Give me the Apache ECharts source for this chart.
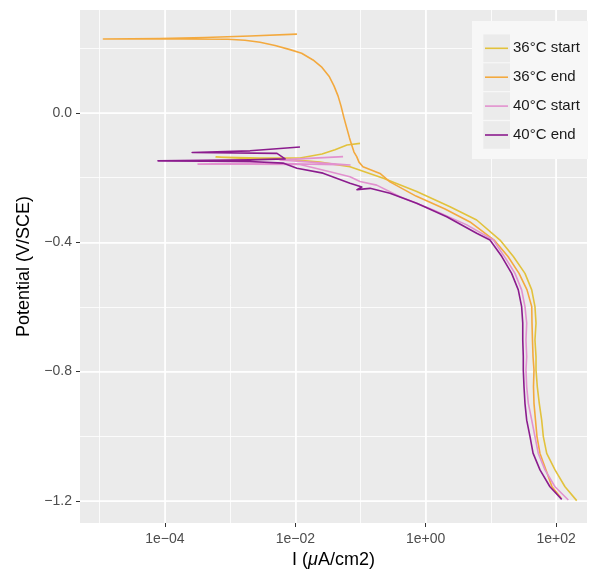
<!DOCTYPE html>
<html>
<head>
<meta charset="utf-8">
<script src="https://cdn.jsdelivr.net/npm/echarts@6/dist/echarts.min.js"></script>
<style>
html,body{margin:0;padding:0;background:#ffffff;}
#chart{width:589px;height:571px;}
</style>
</head>
<body>
<div id="chart"></div>
<script>
// ---------------- data (current I in µA/cm2, potential in V/SCE) ----------------
const seriesNames = ['36°C start', '36°C end', '40°C start', '40°C end'];

const v36start = [-1.199,-1.156,-1.104,-1.053,-1.001,-0.950,-0.898,-0.847,-0.795,-0.754,-0.702,-0.650,-0.599,-0.547,-0.496,-0.444,-0.393,-0.331,-0.290,-0.243,-0.202,-0.166,-0.152,-0.144,-0.141,-0.136,-0.139,-0.139,-0.127,-0.114,-0.099,-0.094];
const i36start = [207,137,96.2,71.8,63.7,60.1,55.2,51.5,49.2,49.2,47.4,49.2,47.4,42.3,33.3,22.1,13.8,6.05,2.36,0.728,0.224,0.0690,0.0239,0.00830,0.00202,0.000608,0.00288,0.0118,0.0257,0.0406,0.0621,0.0982];

const v36end = [-1.191,-1.156,-1.104,-1.053,-1.001,-0.950,-0.898,-0.847,-0.795,-0.754,-0.702,-0.650,-0.599,-0.547,-0.496,-0.444,-0.393,-0.337,-0.297,-0.257,-0.213,-0.187,-0.166,-0.152,-0.135,-0.121,-0.099,-0.077,-0.049,-0.015,0.022,0.053,0.084,0.114,0.141,0.164,0.185,0.196,0.209,0.219,0.225,0.228,0.229,0.229,0.230,0.2335,0.238,0.244];
const i36end = [119,86.5,70.0,56.6,50.9,48.3,45.8,45.0,45.8,44.3,43.4,42.7,42.3,35.8,27.0,18.3,11.2,4.78,1.98,0.710,0.283,0.199,0.109,0.0948,0.0875,0.0795,0.0733,0.0678,0.0621,0.0558,0.0502,0.0452,0.0392,0.0329,0.0257,0.0187,0.0125,0.00830,0.00489,0.00288,0.00169,0.000929,0.000171,0.0000114,0.0000841,0.000412,0.00202,0.0106];

const v40start = [-1.197,-1.156,-1.104,-1.053,-1.001,-0.950,-0.898,-0.847,-0.795,-0.754,-0.702,-0.650,-0.599,-0.547,-0.496,-0.455,-0.393,-0.346,-0.300,-0.259,-0.223,-0.212,-0.197,-0.182,-0.159,-0.158,-0.158,-0.155,-0.161,-0.145,-0.135];
const i40start = [154,96.2,67.6,53.3,47.4,42.3,37.5,35.4,34.5,35.4,34.5,35.4,33.3,29.6,23.4,17.5,10.9,4.26,1.31,0.404,0.177,0.0982,0.0690,0.0340,0.0118,0.00202,0.000322,0.00288,0.0690,0.00582,0.0540];

const v40end = [-1.195,-1.156,-1.104,-1.052,-1.001,-0.950,-0.898,-0.847,-0.795,-0.754,-0.702,-0.650,-0.599,-0.547,-0.496,-0.444,-0.393,-0.372,-0.321,-0.279,-0.248,-0.233,-0.237,-0.229,-0.217,-0.186,-0.171,-0.155,-0.150,-0.148,-0.145,-0.142,-0.125,-0.122,-0.117,-0.105];
const i40end = [122,80.5,56.6,44.3,39.8,35.4,33.3,32.2,31.4,31.4,30.8,30.8,29.6,26.3,20.8,14.7,9.68,6.05,2.10,0.728,0.283,0.140,0.0883,0.105,0.0690,0.0266,0.0106,0.00647,0.00202,0.0000783,0.00202,0.00698,0.00524,0.000262,0.00202,0.0118];

const xTickExponents = [-4, -2, 0, 2];          // labelled decades: 1e-04 ... 1e+02
const yTickValues = [0.0, -0.4, -0.8, -1.2];    // labelled potentials

// ---------------- styling / layout ----------------
const seriesColors = ['#E2C23C', '#F3A93E', '#E291CF', '#8B1C8E'];
const FONT = '"Liberation Sans", Arial, Helvetica, sans-serif';
const PANEL = {x: 80, y: 10, w: 507, h: 513};
const X0PX = 425.7, DEC = 65.2;     // pixel of 1e+00, pixels per decade
const Y0PX = 113, VPX = 323.3;      // pixel of 0 V, pixels per volt
const XMIN = -8, XMAX = 4, YMIN = -1.6, YMAX = 0.4;
const gridLeft = X0PX + XMIN * DEC;
const gridWidth = (XMAX - XMIN) * DEC;
const gridTop = Y0PX - YMAX * VPX;
const gridHeight = (YMAX - YMIN) * VPX;

const MINUS = '\u2212';
function xLabel(v) {
  const k = Math.round(v);
  if (Math.abs(v - k) > 1e-6 || xTickExponents.indexOf(k) < 0) return '';
  return '1e' + (k < 0 ? MINUS : '+') + String(Math.abs(k)).padStart(2, '0');
}
function yLabel(v) {
  const r = Math.round(v * 10) / 10;
  if (yTickValues.indexOf(r) < 0) return '';
  return r.toFixed(1).replace('-', MINUS);
}

const allV = [v36start, v36end, v40start, v40end];
const allI = [i36start, i36end, i40start, i40end];
function toPoints(I, V) { return I.map((c, k) => [Math.log10(c), V[k]]); }

const series = seriesNames.map((n, s) => ({
  type: 'line',
  name: n,
  data: toPoints(allI[s], allV[s]),
  showSymbol: false,
  symbol: 'none',
  color: seriesColors[s],
  itemStyle: {color: seriesColors[s], borderWidth: 0},
  lineStyle: {color: seriesColors[s], width: 1.6, join: 'round'},
  xAxisIndex: 0,
  yAxisIndex: 0,
  animation: false,
  emphasis: {disabled: true}
}));

// legend geometry
const LEG = {x: 472, y: 21, w: 116, h: 138, padT: 12.8, padL: 11, row: 28.9, keyW: 26.7};
const legendGraphics = [{
  type: 'rect', z: 3, silent: true,
  shape: {x: LEG.x, y: LEG.y, width: LEG.w, height: LEG.h},
  style: {fill: '#F7F7F7'}
}];
seriesNames.forEach((n, k) => {
  legendGraphics.push({
    type: 'rect', z: 3, silent: true,
    shape: {x: LEG.x + LEG.padL + 0.3, y: LEG.y + LEG.padT + k * LEG.row + 0.6, width: LEG.keyW, height: LEG.row - 1.2},
    style: {fill: '#EBEBEB'}
  });
});

const option = {
  animation: false,
  backgroundColor: '#ffffff',
  textStyle: {fontFamily: FONT},
  grid: {
    left: gridLeft, top: gridTop, width: gridWidth, height: gridHeight,
    containLabel: false, outerBoundsMode: 'none', show: false
  },
  xAxis: [{
    type: 'value', min: XMIN, max: XMAX, interval: 2, position: 'bottom',
    offset: (PANEL.y + PANEL.h) - (gridTop + gridHeight),
    axisLine: {show: false, onZero: false},
    axisTick: {show: true, length: 4, lineStyle: {color: '#333333', width: 1}},
    axisLabel: {formatter: xLabel, color: '#4D4D4D', fontSize: 14, margin: 9, fontFamily: FONT},
    splitLine: {show: true, lineStyle: {color: '#ffffff', width: 1.6}},
    name: 'I ({mu|\u03BC}A/cm2)', nameLocation: 'middle', nameGap: 21,
    nameTextStyle: {
      fontSize: 18, color: '#000000', fontFamily: FONT,
      padding: [0, 0, 0, 2 * ((PANEL.x + PANEL.w / 2) - (gridLeft + gridWidth / 2))],
      rich: {mu: {fontSize: 18, color: '#000000', fontStyle: 'italic', fontFamily: FONT}}
    }
  }, {
    type: 'value', min: XMIN, max: XMAX, interval: 1, position: 'bottom',
    axisLine: {show: false, onZero: false}, axisTick: {show: false}, axisLabel: {show: false},
    splitLine: {show: true, lineStyle: {color: '#ffffff', width: 0.8}}
  }],
  yAxis: [{
    type: 'value', min: YMIN, max: YMAX, interval: 0.4, position: 'left',
    offset: gridLeft - PANEL.x,
    axisLine: {show: false, onZero: false},
    axisTick: {show: true, length: 4, lineStyle: {color: '#333333', width: 1}},
    axisLabel: {formatter: yLabel, color: '#4D4D4D', fontSize: 14, margin: 8, fontFamily: FONT},
    splitLine: {show: true, lineStyle: {color: '#ffffff', width: 1.6}},
    name: 'Potential (V/SCE)', nameLocation: 'middle', nameGap: 46,
    nameTextStyle: {
      fontSize: 18, color: '#000000', fontFamily: FONT,
      padding: [0, 0, 0, 2 * ((gridTop + gridHeight / 2) - (PANEL.y + PANEL.h / 2))]
    }
  }, {
    type: 'value', min: YMIN, max: YMAX, interval: 0.2, position: 'left',
    axisLine: {show: false, onZero: false}, axisTick: {show: false}, axisLabel: {show: false},
    splitLine: {show: true, lineStyle: {color: '#ffffff', width: 0.8}}
  }],
  legend: {
    data: seriesNames,
    orient: 'vertical',
    left: LEG.x, top: LEG.y,
    padding: [LEG.padT, 5, 9.8, LEG.padL],
    itemGap: 0,
    itemWidth: 25,
    itemHeight: LEG.row,
    icon: 'path://M0,0M25,28.9M2,13.7L25,13.7L25,15.3L2,15.3Z',
    itemStyle: {borderWidth: 0},
    selectedMode: false,
    textStyle: {fontSize: 15, color: '#1A1A1A', fontFamily: FONT}
  },
  graphic: {
    elements: [
      {type: 'rect', z: -10, silent: true, shape: {x: PANEL.x, y: PANEL.y, width: PANEL.w, height: PANEL.h}, style: {fill: '#EBEBEB'}},
      {type: 'rect', z: 10, silent: true, shape: {x: 0, y: PANEL.y + PANEL.h - 3, width: PANEL.x - 1.5, height: 12}, style: {fill: '#ffffff'}}
    ].concat(legendGraphics)
  },
  series: series
};

const chart = echarts.init(document.getElementById('chart'), null, {renderer: 'canvas', width: 589, height: 571});
chart.setOption(option);
</script>
</body>
</html>
